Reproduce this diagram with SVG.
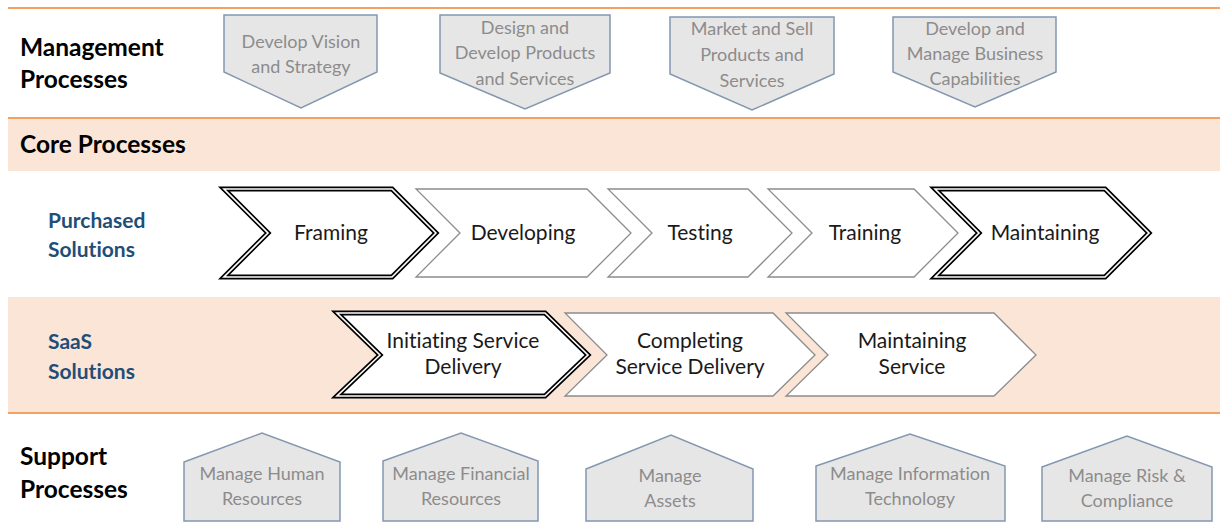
<svg xmlns="http://www.w3.org/2000/svg" width="1224" height="524" viewBox="0 0 1224 524">
<style>
text{font-variant-ligatures:none;}
.band{fill:#FBE5D6;}
.rule{stroke:#F4A062;stroke-width:2;fill:none;}
.hdr{font-family:Lato,"Open Sans","Liberation Sans",sans-serif;font-weight:bold;font-size:24.5px;fill:#000;}
.sub{font-family:Lato,"Open Sans","Liberation Sans",sans-serif;font-weight:bold;font-size:21px;fill:#1F4E79;}
.gshape{fill:#E7E6E6;stroke:#8497B0;stroke-width:1.5;}
.gtxt{font-family:Lato,"Open Sans","Liberation Sans",sans-serif;font-size:18px;fill:#8C8C8C;text-anchor:middle;}
.chev{fill:#fff;stroke:#8C8C8C;stroke-width:1.3;}
.dbl-o{fill:#fff;stroke:#000;stroke-width:5;}
.dbl-i{fill:none;stroke:#fff;stroke-width:1.6;}
.ctxt{font-family:Lato,"Open Sans","Liberation Sans",sans-serif;font-size:21px;fill:#1A1A1A;text-anchor:middle;}
</style>

<g id="background">
<rect class="band" x="8" y="118" width="1212" height="53"/>
<rect class="band" x="8" y="297" width="1212" height="116"/>
<line class="rule" x1="8" y1="8" x2="1220" y2="8"/>
<line class="rule" x1="8" y1="118" x2="1220" y2="118"/>
<line class="rule" x1="8" y1="413" x2="1220" y2="413"/>
</g>

<g id="labels">
<text class="hdr" x="20" y="56">Management</text>
<text class="hdr" x="20" y="88">Processes</text>
<text class="hdr" x="20" y="153">Core Processes</text>
<text class="sub" x="48" y="228">Purchased</text>
<text class="sub" x="48" y="257">Solutions</text>
<text class="sub" x="48" y="349">SaaS</text>
<text class="sub" x="48" y="379">Solutions</text>
<text class="hdr" x="20" y="465">Support</text>
<text class="hdr" x="20" y="498">Processes</text>
</g>

<g id="mgmt-vision">
<polygon class="gshape" points="224,15 377,15 377,72 301,108 224,72"/>
<text class="gtxt" x="301" y="48">Develop Vision</text>
<text class="gtxt" x="301" y="73">and Strategy</text>
</g>
<g id="mgmt-design">
<polygon class="gshape" points="440,15 610,15 610,73 525,109 440,73"/>
<text class="gtxt" x="525" y="34">Design and</text>
<text class="gtxt" x="525" y="59">Develop Products</text>
<text class="gtxt" x="525" y="85">and Services</text>
</g>
<g id="mgmt-market">
<polygon class="gshape" points="670,17 834,17 834,74 752,110 670,74"/>
<text class="gtxt" x="752" y="35">Market and Sell</text>
<text class="gtxt" x="752" y="61">Products and</text>
<text class="gtxt" x="752" y="87">Services</text>
</g>
<g id="mgmt-capabilities">
<polygon class="gshape" points="893,17 1056,17 1056,72 975,107 893,72"/>
<text class="gtxt" x="975" y="35">Develop and</text>
<text class="gtxt" x="975" y="60">Manage Business</text>
<text class="gtxt" x="975" y="85">Capabilities</text>
</g>

<g id="ps-framing">
<polygon class="dbl-o" points="224,189 392,189 436,233 392,277 224,277 268,233"/>
<polygon class="dbl-i" points="224,189 392,189 436,233 392,277 224,277 268,233"/>
<text class="ctxt" x="331" y="240">Framing</text>
</g>
<g id="ps-developing">
<polygon class="chev" points="416,189 587,189 631,233 587,277 416,277 460,233"/>
<text class="ctxt" x="523" y="240">Developing</text>
</g>
<g id="ps-testing">
<polygon class="chev" points="608,189 748,189 792,233 748,277 608,277 652,233"/>
<text class="ctxt" x="700" y="240">Testing</text>
</g>
<g id="ps-training">
<polygon class="chev" points="768,189 914,189 958,233 914,277 768,277 812,233"/>
<text class="ctxt" x="865" y="240">Training</text>
</g>
<g id="ps-maintaining">
<polygon class="dbl-o" points="935,189 1105,189 1149,233 1105,277 935,277 979,233"/>
<polygon class="dbl-i" points="935,189 1105,189 1149,233 1105,277 935,277 979,233"/>
<text class="ctxt" x="1045" y="240">Maintaining</text>
</g>

<g id="saas-initiating">
<polygon class="dbl-o" points="337,313 545,313 588,355 545,396 337,396 380,355"/>
<polygon class="dbl-i" points="337,313 545,313 588,355 545,396 337,396 380,355"/>
<text class="ctxt" x="463" y="348">Initiating Service</text>
<text class="ctxt" x="463" y="374">Delivery</text>
</g>
<g id="saas-completing">
<polygon class="chev" points="565,313 773,313 815,355 773,396 565,396 607,355"/>
<text class="ctxt" x="690" y="348">Completing</text>
<text class="ctxt" x="690" y="374">Service Delivery</text>
</g>
<g id="saas-maintaining">
<polygon class="chev" points="786,313 994,313 1036,355 994,396 786,396 828,355"/>
<text class="ctxt" x="912" y="348">Maintaining</text>
<text class="ctxt" x="912" y="374">Service</text>
</g>

<g id="sup-human">
<polygon class="gshape" points="184,462 262,433 340,462 340,521 184,521"/>
<text class="gtxt" x="262" y="480">Manage Human</text>
<text class="gtxt" x="262" y="505">Resources</text>
</g>
<g id="sup-financial">
<polygon class="gshape" points="383,461 461,433 538,461 538,521 383,521"/>
<text class="gtxt" x="461" y="480">Manage Financial</text>
<text class="gtxt" x="461" y="505">Resources</text>
</g>
<g id="sup-assets">
<polygon class="gshape" points="586,469 671,435 753,469 753,521 586,521"/>
<text class="gtxt" x="670" y="482">Manage</text>
<text class="gtxt" x="670" y="507">Assets</text>
</g>
<g id="sup-it">
<polygon class="gshape" points="816,466 910,434 1005,466 1005,521 816,521"/>
<text class="gtxt" x="910" y="480">Manage Information</text>
<text class="gtxt" x="910" y="505">Technology</text>
</g>
<g id="sup-risk">
<polygon class="gshape" points="1042,467 1127,436 1212,467 1212,521 1042,521"/>
<text class="gtxt" x="1127" y="482">Manage Risk &amp;</text>
<text class="gtxt" x="1127" y="507">Compliance</text>
</g>

<g id="connectors"/>
</svg>
